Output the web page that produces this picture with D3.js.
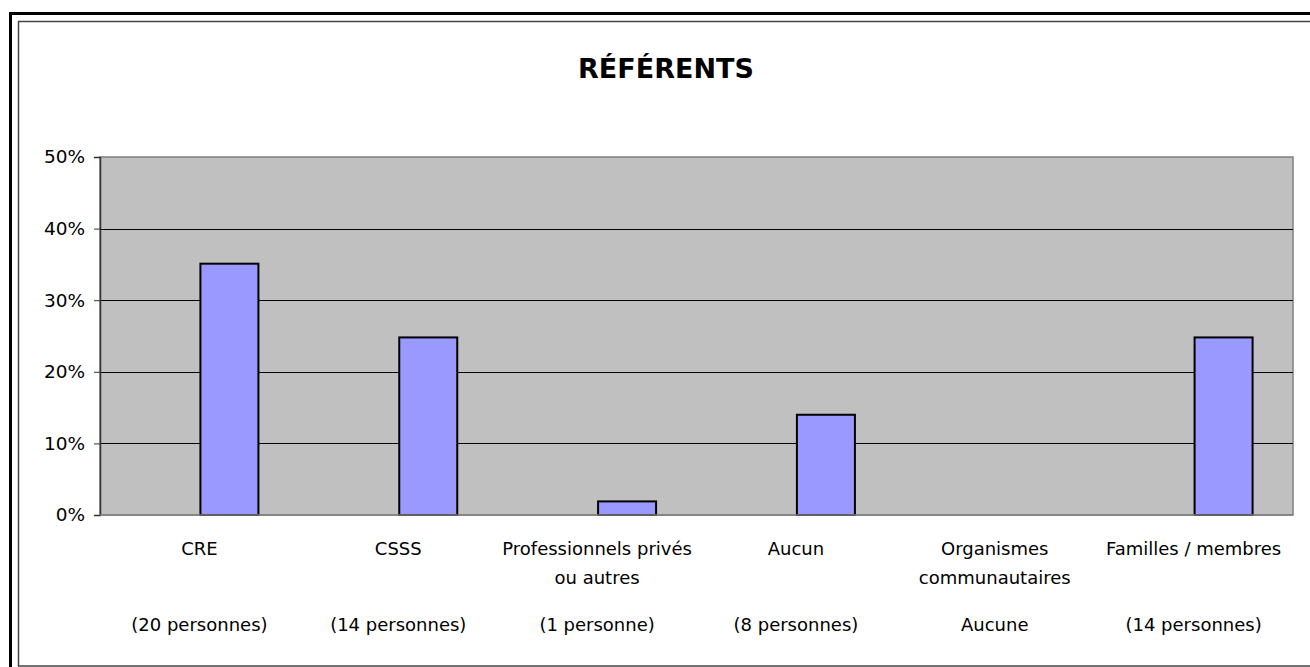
<!DOCTYPE html>
<html>
<head>
<meta charset="utf-8">
<script src="https://cdn.jsdelivr.net/npm/d3@7"></script>
<style>
  body { margin: 0; background: #fff; }
  text { font-family: "DejaVu Sans", sans-serif; fill: #000; }
</style>
</head>
<body>
<script>
// data
var categories = ["CRE", "CSSS", "Professionnels privés|ou autres", "Aucun", "Organismes|communautaires", "Familles / membres"];
var counts = ["(20 personnes)", "(14 personnes)", "(1 personne)", "(8 personnes)", "Aucune", "(14 personnes)"];
var values = [0.351, 0.248, 0.019, 0.140, 0, 0.248];
var yTicks = [0, 0.1, 0.2, 0.3, 0.4, 0.5];

var svg = d3.select("body")
    .append("svg")
    .attr("width", 1310)
    .attr("height", 667);

// frames
svg.append("rect")
    .attr("x", 10.5).attr("y", 13.5)
    .attr("width", 1320).attr("height", 670)
    .style("fill", "none")
    .style("stroke", "#000")
    .style("stroke-width", 3);

svg.append("rect")
    .attr("x", 18.5).attr("y", 21.5)
    .attr("width", 1310).attr("height", 644.5)
    .style("fill", "none")
    .style("stroke", "#444")
    .style("stroke-width", 1.5);

var plotLeft = 100, plotRight = 1293, plotTop = 157, plotBottom = 515;

var y = d3.scaleLinear()
    .domain([0, 0.5])
    .range([plotBottom, plotTop]);

var x = d3.scaleBand()
    .domain(categories)
    .range([plotLeft, plotRight]);

//the bar sits in the right half slot of each category (empty series on the left)
var barWidth = 58;
function center(c){ return x(c) + x.bandwidth() / 2; }

//plot background
svg.append("rect")
    .attr("x", plotLeft)
    .attr("y", plotTop)
    .attr("width", plotRight - plotLeft)
    .attr("height", plotBottom - plotTop)
    .style("fill", "#c0c0c0")
    .style("stroke", "#808080")
    .style("stroke-width", 1.5);

//gridlines
svg.selectAll(".grid")
    .data(yTicks.filter(function(d){ return d > 0 && d < 0.5; }))
    .enter()
    .append("line")
    .attr("class", "grid")
    .attr("x1", plotLeft)
    .attr("x2", plotRight)
    .attr("y1", function(d){ return Math.round(y(d)) + 0.5; })
    .attr("y2", function(d){ return Math.round(y(d)) + 0.5; })
    .style("stroke", "#000")
    .style("stroke-width", 1);

//y axis
var yAxis = d3.axisLeft(y)
    .tickValues(yTicks)
    .tickFormat(d3.format(".0%"))
    .tickSize(6)
    .tickPadding(9);

var axis = svg.append("g")
    .attr("class", "axis")
    .attr("transform", "translate(" + plotLeft + ",0)")
    .call(yAxis);

axis.select(".domain").style("stroke", "#333").style("stroke-width", 1.5);
axis.selectAll(".tick line").style("stroke", "#333");
axis.selectAll(".tick text")
    .style("font-size", "18.5px")
    .style("fill", "#000")
    .style("font-family", "'DejaVu Sans', sans-serif");

//bars
svg.selectAll(".bar")
    .data(values)
    .enter()
    .append("rect")
    .attr("class", "bar")
    .attr("x", function(d, i){ return center(categories[i]) + 1; })
    .attr("y", function(d){ return y(d); })
    .attr("width", barWidth)
    .attr("height", function(d){ return plotBottom - y(d); })
    .style("fill", "#9999ff")
    .style("stroke", function(d){ return d > 0 ? "#000" : "none"; })
    .style("stroke-width", 2);

//baseline drawn over bars
svg.append("line")
    .attr("x1", plotLeft).attr("x2", plotRight)
    .attr("y1", plotBottom).attr("y2", plotBottom)
    .style("stroke", "#808080")
    .style("stroke-width", 1.5);

//category labels
var labels = svg.selectAll(".cat")
    .data(categories)
    .enter()
    .append("text")
    .attr("class", "cat")
    .attr("text-anchor", "middle")
    .style("font-size", "18px");

labels.selectAll("tspan")
    .data(function(d){ return d.split("|").map(function(s){ return { s: s, c: d }; }); })
    .enter()
    .append("tspan")
    .attr("x", function(d){ return center(d.c); })
    .attr("y", function(d, i){ return 555 + i * 29; })
    .text(function(d){ return d.s; });

svg.selectAll(".count")
    .data(counts)
    .enter()
    .append("text")
    .attr("class", "count")
    .attr("text-anchor", "middle")
    .attr("x", function(d, i){ return center(categories[i]); })
    .attr("y", 631)
    .style("font-size", "18px")
    .text(function(d){ return d; });

//title
svg.append("text")
    .attr("x", 666)
    .attr("y", 78)
    .attr("text-anchor", "middle")
    .style("font-size", "27px")
    .style("font-weight", "bold")
    .text("RÉFÉRENTS");
</script>
</body>
</html>
